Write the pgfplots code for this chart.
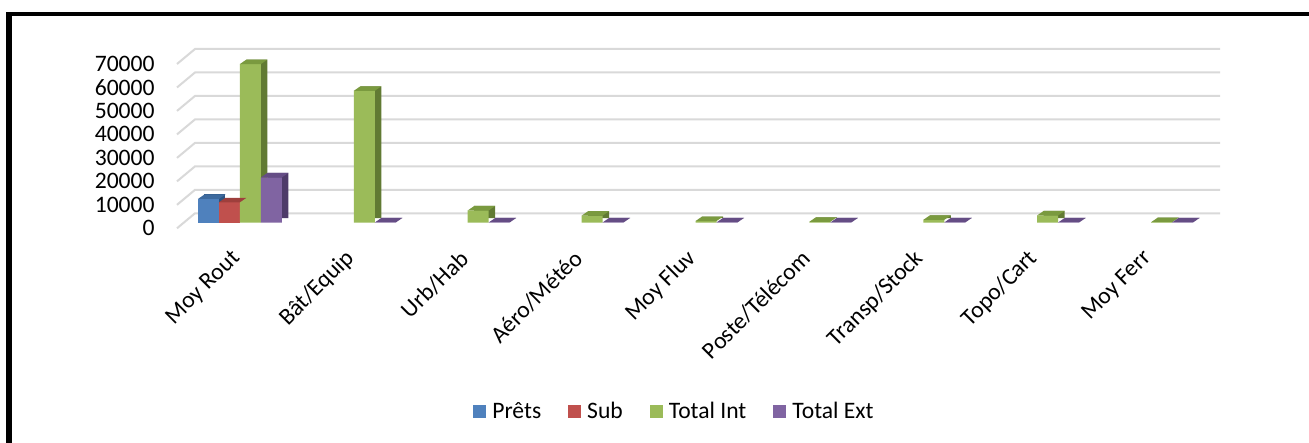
\documentclass[border=0pt]{standalone}
\usepackage{fontspec}
\setmainfont{Carlito}
\usepackage{pgfplots}
\pgfplotsset{compat=1.18}

\definecolor{cB}{HTML}{4F81BD}\definecolor{cBt}{HTML}{3D6A9E}\definecolor{cBs}{HTML}{2E5480}
\definecolor{cR}{HTML}{C0504D}\definecolor{cRt}{HTML}{9E3F3C}\definecolor{cRs}{HTML}{7E302E}
\definecolor{cG}{HTML}{9BBB59}\definecolor{cGt}{HTML}{7A9A3F}\definecolor{cGs}{HTML}{617A33}
\definecolor{cP}{HTML}{8064A2}\definecolor{cPt}{HTML}{654D85}\definecolor{cPs}{HTML}{4E3B69}
\definecolor{gridc}{HTML}{D9D9D9}

% top faces of the 3D columns (bar width 10.5pt, depth 3.25pt x 2.25pt)
\pgfdeclareplotmark{topA}{\pgfpathmoveto{\pgfpoint{-21pt}{0pt}}\pgfpathlineto{\pgfpoint{-10.5pt}{0pt}}\pgfpathlineto{\pgfpoint{-7.25pt}{2.25pt}}\pgfpathlineto{\pgfpoint{-17.75pt}{2.25pt}}\pgfpathclose\pgfusepathqfill}
\pgfdeclareplotmark{topB}{\pgfpathmoveto{\pgfpoint{-10.5pt}{0pt}}\pgfpathlineto{\pgfpoint{0pt}{0pt}}\pgfpathlineto{\pgfpoint{3.25pt}{2.25pt}}\pgfpathlineto{\pgfpoint{-7.25pt}{2.25pt}}\pgfpathclose\pgfusepathqfill}
\pgfdeclareplotmark{topC}{\pgfpathmoveto{\pgfpoint{0pt}{0pt}}\pgfpathlineto{\pgfpoint{10.5pt}{0pt}}\pgfpathlineto{\pgfpoint{13.75pt}{2.25pt}}\pgfpathlineto{\pgfpoint{3.25pt}{2.25pt}}\pgfpathclose\pgfusepathqfill}
\pgfdeclareplotmark{topD}{\pgfpathmoveto{\pgfpoint{10.5pt}{0pt}}\pgfpathlineto{\pgfpoint{21pt}{0pt}}\pgfpathlineto{\pgfpoint{24.25pt}{2.25pt}}\pgfpathlineto{\pgfpoint{13.75pt}{2.25pt}}\pgfpathclose\pgfusepathqfill}

\begin{document}
\begin{tikzpicture}
\path[use as bounding box] (0,0) rectangle (654.5pt,221.5pt);
\fill[white] (0,0) rectangle (654.5pt,221.5pt);
\draw[line width=2.75pt] (4.5pt,-5pt) -- (4.5pt,215.4pt);
\draw[line width=2pt] (3.1pt,214.4pt) -- (660pt,214.4pt);
\begin{axis}[
  at={(91.5pt,110.15pt)}, anchor=south west,
  scale only axis, width=512.5pt, height=82.15pt,
  xmin=-0.5, xmax=8.5, ymin=0, ymax=70000,
  clip=false,
  axis line style={draw=none},
  major tick length=0pt,
  xtick={0,1,2,3,4,5,6,7,8},
  xticklabels={Moy Rout,Bât/Equip,Urb/Hab,Aéro/Météo,Moy Fluv,Poste/Télécom,Transp/Stock,Topo/Cart,Moy Ferr},
  ytick={0,10000,20000,30000,40000,50000,60000,70000},
  scaled y ticks=false,
  /pgf/number format/.cd, set thousands separator={}, assume math mode=true, /pgfplots/.cd,
  tick label style={font=\fontsize{11.8}{14}\selectfont},
  yticklabel style={anchor=east, inner sep=0pt, xshift=-14pt, yshift=-2.8pt},
  xticklabel style={xshift=-1.5pt, rotate=45, anchor=east, inner sep=0pt},
  xticklabel shift=16pt,
  legend style={at={(0.48,-1.15)}, anchor=center, draw=none, fill=none,
    font=\fontsize{11.8}{14}\selectfont, legend columns=-1,
    /tikz/every odd column/.append style={column sep=1.5pt},
    /tikz/every even column/.append style={column sep=12pt},
    nodes={inner sep=1.5pt}},
  legend image code/.code={\fill[#1,draw=none] (0pt,-3.25pt) rectangle (6.5pt,3.25pt);},
]
\pgfplotsinvokeforeach{0,10000,20000,30000,40000,50000,60000,70000}{
  \draw[gridc, line width=1pt] ([xshift=-3pt,yshift=-2.8pt]axis cs:-0.5,#1) -- ([xshift=6pt,yshift=4.7pt]axis cs:-0.5,#1) -- ([xshift=6pt,yshift=4.7pt]axis cs:8.5,#1);
}
% Prêts
\addplot[ybar, bar width=10.5pt, bar shift=-12.5pt, yshift=2.25pt, fill=cBs, draw=none, forget plot] coordinates {(0,10100)};
\addplot[ybar, bar width=10.5pt, bar shift=-15.75pt, fill=cB, draw=none] coordinates {(0,10100)};
\addplot[only marks, mark=topA, mark options={fill=cBt, draw=none}, forget plot] coordinates {(0,10100)};
% Sub
\addplot[ybar, bar width=10.5pt, bar shift=-2pt, yshift=2.25pt, fill=cRs, draw=none, forget plot] coordinates {(0,8700)};
\addplot[ybar, bar width=10.5pt, bar shift=-5.25pt, fill=cR, draw=none] coordinates {(0,8700)};
\addplot[only marks, mark=topB, mark options={fill=cRt, draw=none}, forget plot] coordinates {(0,8700)};
% Total Int
\addplot[ybar, bar width=10.5pt, bar shift=8.5pt, yshift=2.25pt, fill=cGs, draw=none, forget plot] coordinates {(0,67600)(1,56200)(2,5200)(3,3000)(4,700)(5,400)(6,1200)(7,3100)(8,200)};
\addplot[ybar, bar width=10.5pt, bar shift=5.25pt, fill=cG, draw=none] coordinates {(0,67600)(1,56200)(2,5200)(3,3000)(4,700)(5,400)(6,1200)(7,3100)(8,200)};
\addplot[only marks, mark=topC, mark options={fill=cGt, draw=none}, forget plot] coordinates {(0,67600)(1,56200)(2,5200)(3,3000)(4,700)(5,400)(6,1200)(7,3100)(8,200)};
% Total Ext
\addplot[ybar, bar width=10.5pt, bar shift=19pt, yshift=2.25pt, fill=cPs, draw=none, forget plot] coordinates {(0,19300)(1,100)(2,100)(3,100)(4,100)(5,100)(6,100)(7,100)(8,100)};
\addplot[ybar, bar width=10.5pt, bar shift=15.75pt, fill=cP, draw=none] coordinates {(0,19300)(1,100)(2,100)(3,100)(4,100)(5,100)(6,100)(7,100)(8,100)};
\addplot[only marks, mark=topD, mark options={fill=cPt, draw=none}, forget plot] coordinates {(0,19300)(1,100)(2,100)(3,100)(4,100)(5,100)(6,100)(7,100)(8,100)};
\legend{Prêts,Sub,Total Int,Total Ext}
\end{axis}
\end{tikzpicture}
\end{document}
